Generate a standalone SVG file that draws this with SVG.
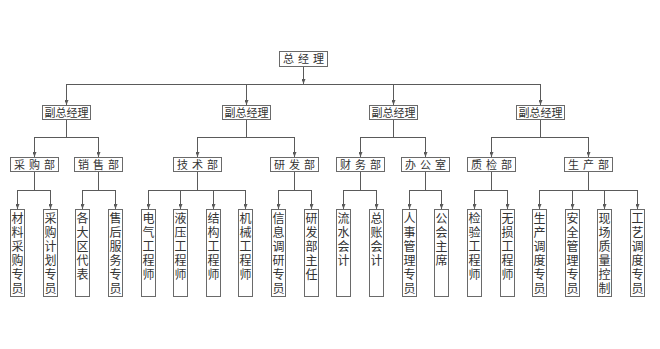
<svg xmlns="http://www.w3.org/2000/svg" width="660" height="349" viewBox="0 0 660 349">
<style>
.bx{fill:#fff;stroke:#6a6a6a;stroke-width:1}
.ln{fill:none;stroke:#5a5a5a;stroke-width:1}
.t{font-family:"Noto Sans CJK SC","Noto Sans",sans-serif;fill:#333;text-anchor:middle}
.h{font-size:11px;letter-spacing:4px}
.m{font-size:11px}
.v{font-size:12px;writing-mode:vertical-rl;text-orientation:upright;letter-spacing:2px;text-anchor:start}
</style>
<defs>
<marker id="ar" markerWidth="5" markerHeight="4" refX="5" refY="2" orient="auto" markerUnits="userSpaceOnUse">
<path d="M0,0 L5,2 L0,4 Z" fill="#5a5a5a"/>
</marker>
</defs>
<rect width="660" height="349" fill="#fff"/>
<g id="connectors" class="ln">
<path d="M303.5,66 V84" marker-end="url(#ar)"/>
<path d="M66.5,84.5 H540.5"/>
<path d="M66.5,84 V105" marker-end="url(#ar)"/>
<path d="M246.5,84 V105" marker-end="url(#ar)"/>
<path d="M393.5,84 V105" marker-end="url(#ar)"/>
<path d="M540.5,84 V105" marker-end="url(#ar)"/>
<path d="M66.5,119 V137.5 M34.5,137.5 H98.5"/>
<path d="M246.5,119 V137.5 M197.5,137.5 H294.5"/>
<path d="M393.5,119 V137.5 M360.5,137.5 H425.5"/>
<path d="M540.5,119 V137.5 M491.5,137.5 H588.5"/>
<path d="M34.5,137 V157" marker-end="url(#ar)"/>
<path d="M98.5,137 V157" marker-end="url(#ar)"/>
<path d="M197.5,137 V157" marker-end="url(#ar)"/>
<path d="M294.5,137 V157" marker-end="url(#ar)"/>
<path d="M360.5,137 V157" marker-end="url(#ar)"/>
<path d="M425.5,137 V157" marker-end="url(#ar)"/>
<path d="M491.5,137 V157" marker-end="url(#ar)"/>
<path d="M588.5,137 V157" marker-end="url(#ar)"/>
<path d="M34.5,171 V190.5 M17.5,190.5 H50.5"/>
<path d="M98.5,171 V190.5 M82.5,190.5 H115.5"/>
<path d="M197.5,171 V190.5 M148.5,190.5 H245.5"/>
<path d="M294.5,171 V190.5 M278.5,190.5 H311.5"/>
<path d="M360.5,171 V190.5 M343.5,190.5 H376.5"/>
<path d="M425.5,171 V190.5 M409.5,190.5 H441.5"/>
<path d="M491.5,171 V190.5 M474.5,190.5 H507.5"/>
<path d="M588.5,171 V190.5 M539.5,190.5 H637.5"/>
<path d="M17.5,190 V209" marker-end="url(#ar)"/>
<path d="M50.5,190 V209" marker-end="url(#ar)"/>
<path d="M82.5,190 V209" marker-end="url(#ar)"/>
<path d="M115.5,190 V209" marker-end="url(#ar)"/>
<path d="M148.5,190 V209" marker-end="url(#ar)"/>
<path d="M180.5,190 V209" marker-end="url(#ar)"/>
<path d="M213.5,190 V209" marker-end="url(#ar)"/>
<path d="M245.5,190 V209" marker-end="url(#ar)"/>
<path d="M278.5,190 V209" marker-end="url(#ar)"/>
<path d="M311.5,190 V209" marker-end="url(#ar)"/>
<path d="M343.5,190 V209" marker-end="url(#ar)"/>
<path d="M376.5,190 V209" marker-end="url(#ar)"/>
<path d="M409.5,190 V209" marker-end="url(#ar)"/>
<path d="M441.5,190 V209" marker-end="url(#ar)"/>
<path d="M474.5,190 V209" marker-end="url(#ar)"/>
<path d="M507.5,190 V209" marker-end="url(#ar)"/>
<path d="M539.5,190 V209" marker-end="url(#ar)"/>
<path d="M572.5,190 V209" marker-end="url(#ar)"/>
<path d="M604.5,190 V209" marker-end="url(#ar)"/>
<path d="M637.5,190 V209" marker-end="url(#ar)"/>
</g>
<g id="n-zjl"><rect class="bx" x="279.5" y="51.5" width="48" height="15"/><text class="t h" x="305.5" y="63">总经理</text></g>
<g id="n-fz1"><rect class="bx" x="42.5" y="105.5" width="48" height="14"/><text class="t m" x="66.5" y="116.5">副总经理</text></g>
<g id="n-fz2"><rect class="bx" x="222.5" y="105.5" width="48" height="14"/><text class="t m" x="246.5" y="116.5">副总经理</text></g>
<g id="n-fz3"><rect class="bx" x="369.5" y="105.5" width="48" height="14"/><text class="t m" x="393.5" y="116.5">副总经理</text></g>
<g id="n-fz4"><rect class="bx" x="516.5" y="105.5" width="48" height="14"/><text class="t m" x="540.5" y="116.5">副总经理</text></g>
<g id="n-cg"><rect class="bx" x="10.5" y="157.5" width="48" height="14"/><text class="t h" x="36.5" y="168.5">采购部</text></g>
<g id="n-xs"><rect class="bx" x="74.5" y="157.5" width="48" height="14"/><text class="t h" x="100.5" y="168.5">销售部</text></g>
<g id="n-js"><rect class="bx" x="173.5" y="157.5" width="48" height="14"/><text class="t h" x="199.5" y="168.5">技术部</text></g>
<g id="n-yf"><rect class="bx" x="270.5" y="157.5" width="48" height="14"/><text class="t h" x="296.5" y="168.5">研发部</text></g>
<g id="n-cw"><rect class="bx" x="336.5" y="157.5" width="48" height="14"/><text class="t h" x="362.5" y="168.5">财务部</text></g>
<g id="n-bgs"><rect class="bx" x="401.5" y="157.5" width="48" height="14"/><text class="t h" x="427.5" y="168.5">办公室</text></g>
<g id="n-zj"><rect class="bx" x="467.5" y="157.5" width="48" height="14"/><text class="t h" x="493.5" y="168.5">质检部</text></g>
<g id="n-sc"><rect class="bx" x="564.5" y="157.5" width="48" height="14"/><text class="t h" x="590.5" y="168.5">生产部</text></g>
<g id="l0"><rect class="bx" x="10.5" y="209.5" width="14" height="87"/><text class="t v" x="17.5" y="212">材料采购专员</text></g>
<g id="l1"><rect class="bx" x="43.5" y="209.5" width="14" height="87"/><text class="t v" x="50.5" y="212">采购计划专员</text></g>
<g id="l2"><rect class="bx" x="75.5" y="209.5" width="14" height="87"/><text class="t v" x="82.5" y="212">各大区代表</text></g>
<g id="l3"><rect class="bx" x="108.5" y="209.5" width="14" height="87"/><text class="t v" x="115.5" y="212">售后服务专员</text></g>
<g id="l4"><rect class="bx" x="141.5" y="209.5" width="14" height="87"/><text class="t v" x="148.5" y="212">电气工程师</text></g>
<g id="l5"><rect class="bx" x="173.5" y="209.5" width="14" height="87"/><text class="t v" x="180.5" y="212">液压工程师</text></g>
<g id="l6"><rect class="bx" x="206.5" y="209.5" width="14" height="87"/><text class="t v" x="213.5" y="212">结构工程师</text></g>
<g id="l7"><rect class="bx" x="238.5" y="209.5" width="14" height="87"/><text class="t v" x="245.5" y="212">机械工程师</text></g>
<g id="l8"><rect class="bx" x="271.5" y="209.5" width="14" height="87"/><text class="t v" x="278.5" y="212">信息调研专员</text></g>
<g id="l9"><rect class="bx" x="304.5" y="209.5" width="14" height="87"/><text class="t v" x="311.5" y="212">研发部主任</text></g>
<g id="l10"><rect class="bx" x="336.5" y="209.5" width="14" height="87"/><text class="t v" x="343.5" y="212">流水会计</text></g>
<g id="l11"><rect class="bx" x="369.5" y="209.5" width="14" height="87"/><text class="t v" x="376.5" y="212">总账会计</text></g>
<g id="l12"><rect class="bx" x="402.5" y="209.5" width="14" height="87"/><text class="t v" x="409.5" y="212">人事管理专员</text></g>
<g id="l13"><rect class="bx" x="434.5" y="209.5" width="14" height="87"/><text class="t v" x="441.5" y="212">公会主席</text></g>
<g id="l14"><rect class="bx" x="467.5" y="209.5" width="14" height="87"/><text class="t v" x="474.5" y="212">检验工程师</text></g>
<g id="l15"><rect class="bx" x="500.5" y="209.5" width="14" height="87"/><text class="t v" x="507.5" y="212">无损工程师</text></g>
<g id="l16"><rect class="bx" x="532.5" y="209.5" width="14" height="87"/><text class="t v" x="539.5" y="212">生产调度专员</text></g>
<g id="l17"><rect class="bx" x="565.5" y="209.5" width="14" height="87"/><text class="t v" x="572.5" y="212">安全管理专员</text></g>
<g id="l18"><rect class="bx" x="597.5" y="209.5" width="14" height="87"/><text class="t v" x="604.5" y="212">现场质量控制</text></g>
<g id="l19"><rect class="bx" x="630.5" y="209.5" width="14" height="87"/><text class="t v" x="637.5" y="212">工艺调度专员</text></g>
</svg>
